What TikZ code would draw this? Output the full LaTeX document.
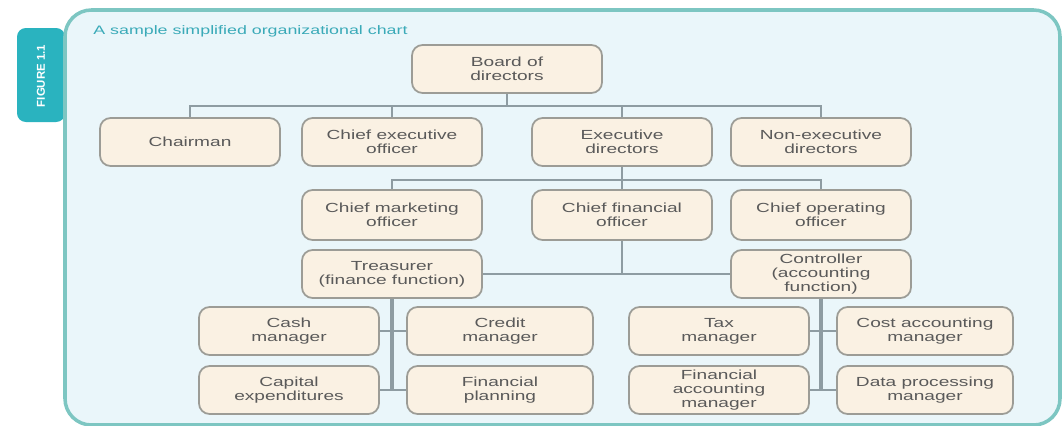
\documentclass[tikz,border=0pt]{standalone}
\usepackage{fontspec}
\newfontfamily\chartfont[FakeStretch=1.45]{Liberation Sans}
\newfontfamily\tabfont{Liberation Sans}
\definecolor{framefill}{HTML}{EAF6FA}
\definecolor{frameline}{HTML}{7DC6C2}
\definecolor{tabfill}{HTML}{2AB3BF}
\definecolor{boxfill}{HTML}{FAF1E3}
\definecolor{boxline}{HTML}{9C9C96}
\definecolor{linkline}{HTML}{8E9CA2}
\definecolor{boxtext}{HTML}{5A5A5A}
\definecolor{titletext}{HTML}{3AAAB8}
\tikzset{
  orgbox/.style={draw=boxline, line width=1pt, fill=boxfill, rounded corners=6pt,
    minimum width=3.6cm, minimum height=0.96cm, align=center, inner sep=1pt,
    text=boxtext, font=\chartfont\fontsize{7.5}{7.8}\selectfont},
  link/.style={draw=linkline, line width=1.1pt},
  trunk/.style={draw=linkline, line width=1.8pt}
}
\begin{document}
\begin{tikzpicture}[x=0.02cm,y=-0.02cm]
  \useasboundingbox (0,0) rectangle (1063,426);
  \fill[tabfill, rounded corners=5pt] (65,28) -- (17,28) -- (17,122) -- (65,122) -- cycle;
  \node[rotate=90, text=white, font=\tabfont\bfseries\fontsize{6.5}{7}\selectfont] (tab) at (41,76) {FIGURE 1.1};
  \draw[frameline, line width=2pt, fill=framefill, rounded corners=15pt] (65,10) rectangle (1060,425);
  \node[anchor=west, text=titletext, inner sep=0pt, font=\chartfont\fontsize{7}{8}\selectfont] (title) at (93,31) {A sample simplified organizational chart};
  \draw
    (507,69) node[orgbox, minimum width=3.8cm] (board){Board of\\directors}
    (190,142) node[orgbox] (chair){Chairman}
    (392,142) node[orgbox] (ceo){Chief executive\\officer}
    (622,142) node[orgbox] (execdir){Executive\\directors}
    (821,142) node[orgbox] (nonexec){Non-executive\\directors}
    (392,215) node[orgbox, minimum height=1cm] (cmo){Chief marketing\\officer}
    (622,215) node[orgbox, minimum height=1cm] (cfo){Chief financial\\officer}
    (821,215) node[orgbox, minimum height=1cm] (coo){Chief operating\\officer}
    (392,274) node[orgbox] (treas){Treasurer\\(finance function)}
    (821,274) node[orgbox] (ctrl){Controller\\(accounting\\function)}
    (289,331) node[orgbox] (cash){Cash\\manager}
    (500,331) node[orgbox, minimum width=3.72cm] (credit){Credit\\manager}
    (289,390) node[orgbox] (capex){Capital\\expenditures}
    (500,390) node[orgbox, minimum width=3.72cm] (finplan){Financial\\planning}
    (719,331) node[orgbox] (tax){Tax\\manager}
    (925,331) node[orgbox, minimum width=3.52cm] (costacc){Cost accounting\\manager}
    (719,390) node[orgbox] (finacc){Financial\\accounting\\manager}
    (925,390) node[orgbox, minimum width=3.52cm] (dataproc){Data processing\\manager};
  \begin{scope}[link]
    \coordinate (bus1) at (0,106);
    \coordinate (bus2) at (0,180);
    \draw (board.south) -- (board.south |- bus1);
    \draw (chair.north) -- (chair.north |- bus1) -- (nonexec.north |- bus1) -- (nonexec.north);
    \draw (ceo.north) -- (ceo.north |- bus1);
    \draw (execdir.north) -- (execdir.north |- bus1);
    \draw (execdir.south) -- (execdir.south |- bus2);
    \draw (cmo.north) -- (cmo.north |- bus2) -- (coo.north |- bus2) -- (coo.north);
    \draw (cfo.north) -- (cfo.north |- bus2);
    \draw (cfo.south) -- (cfo.south |- treas.east);
    \draw (treas.east) -- (ctrl.west);
    \draw (cash.east) -- (credit.west);
    \draw (capex.east) -- (finplan.west);
    \draw (tax.east) -- (costacc.west);
    \draw (finacc.east) -- (dataproc.west);
  \end{scope}
  \draw[trunk] (treas.south) -- (treas.south |- capex.east);
  \draw[trunk] (ctrl.south) -- (ctrl.south |- finacc.east);
\end{tikzpicture}
\end{document}
